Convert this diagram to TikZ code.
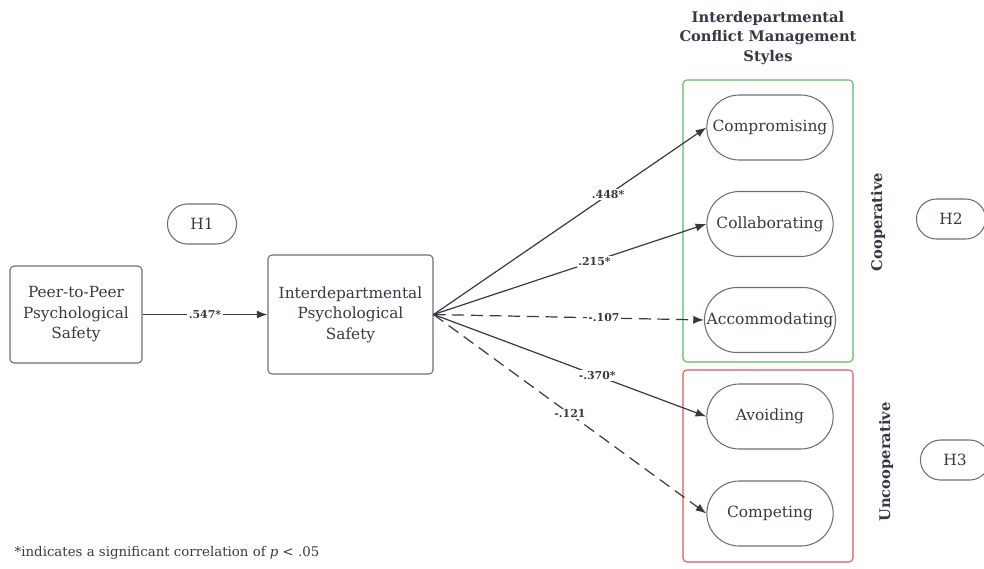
\documentclass[tikz,border=0pt]{standalone}
\usepackage{fontspec}
\setmainfont{DejaVu Serif}
\usetikzlibrary{arrows.meta,positioning,shapes.misc}
\definecolor{ink}{HTML}{343A44}
\definecolor{edge}{HTML}{6A6E76}
\definecolor{coopgreen}{HTML}{5DB85D}
\definecolor{uncoopred}{HTML}{E25555}

\begin{document}
\begin{tikzpicture}[x=0.75pt,y=-0.75pt,
  every node/.style={text=ink},
  box/.style={draw=edge,line width=0.8pt,rounded corners=3pt,align=center,font=\fontsize{11.5}{15.4}\selectfont},
  styl/.style={draw=edge,line width=0.8pt,rounded rectangle,minimum width=96.75pt,minimum height=48.75pt,inner sep=1pt,font=\fontsize{11.6}{13}\selectfont},
  hyp/.style={draw=edge,line width=0.8pt,rounded rectangle,minimum width=58.5pt,minimum height=30pt,font=\fontsize{11.6}{13}\selectfont},
  path/.style={draw=ink,line width=0.9pt,-{Latex[length=8pt,width=6pt]}},
  ns/.style={path,dash pattern=on 9pt off 5pt},
  coef/.style={fill=white,inner sep=1pt,font=\bfseries\fontsize{8.2}{9}\selectfont},
  grp/.style={font=\bfseries\fontsize{11}{14.6}\selectfont}]
  \useasboundingbox (0,0) rectangle (984,568);
  % predictors
  \node[box,minimum width=99pt,minimum height=72.75pt] (pps) at (76,314.5) {Peer-to-Peer\\Psychological\\Safety};
  \node[box,minimum width=123.75pt,minimum height=89.25pt] (ips) at (350.5,314.5) {Interdepartmental\\Psychological\\Safety};
  \draw[path] (pps) -- node[coef]{.547*} (ips);
  % style groups
  \node[grp,align=center] (title) at (768,38) {Interdepartmental\\Conflict Management\\Styles};
  \draw[coopgreen,line width=0.8pt,rounded corners=3pt] (683,80) rectangle (853,362);
  \draw[uncoopred,line width=0.8pt,rounded corners=3pt] (683,370) rectangle (853,562);
  \node[grp,rotate=90] (coop) at (878,222) {Cooperative};
  \node[grp,rotate=90] (uncoop) at (886,462) {Uncooperative};
  \foreach \n/\t/\y in {comp/Compromising/127.5,coll/Collaborating/224,acco/Accommodating/320,avoi/Avoiding/416.5,compe/Competing/513.5}
    \node[styl] (\n) at (770,\y) {\t};
  % paths
  \draw[path] (ips.east) -- node[coef,pos=0.64]{.448*} (comp.west);
  \draw[path] (ips.east) -- node[coef,pos=0.59]{.215*} (coll.west);
  \draw[ns] (ips.east) -- node[coef,pos=0.63]{-.107} (acco.west);
  \draw[path] (ips.east) -- node[coef,pos=0.6]{-.370*} (avoi.west);
  \draw[ns] (ips.east) -- node[coef,pos=0.5]{-.121} (compe.west);
  % hypotheses
  \node[hyp] (h1) at (202,224) {H1};
  \node[hyp] (h2) at (951,219) {H2};
  \node[hyp] (h3) at (955,460) {H3};
  \node[anchor=west,font=\fontsize{10}{11}\selectfont] (note) at (10,553) {*indicates a significant correlation of \textit{p} < .05};
\end{tikzpicture}
\end{document}
